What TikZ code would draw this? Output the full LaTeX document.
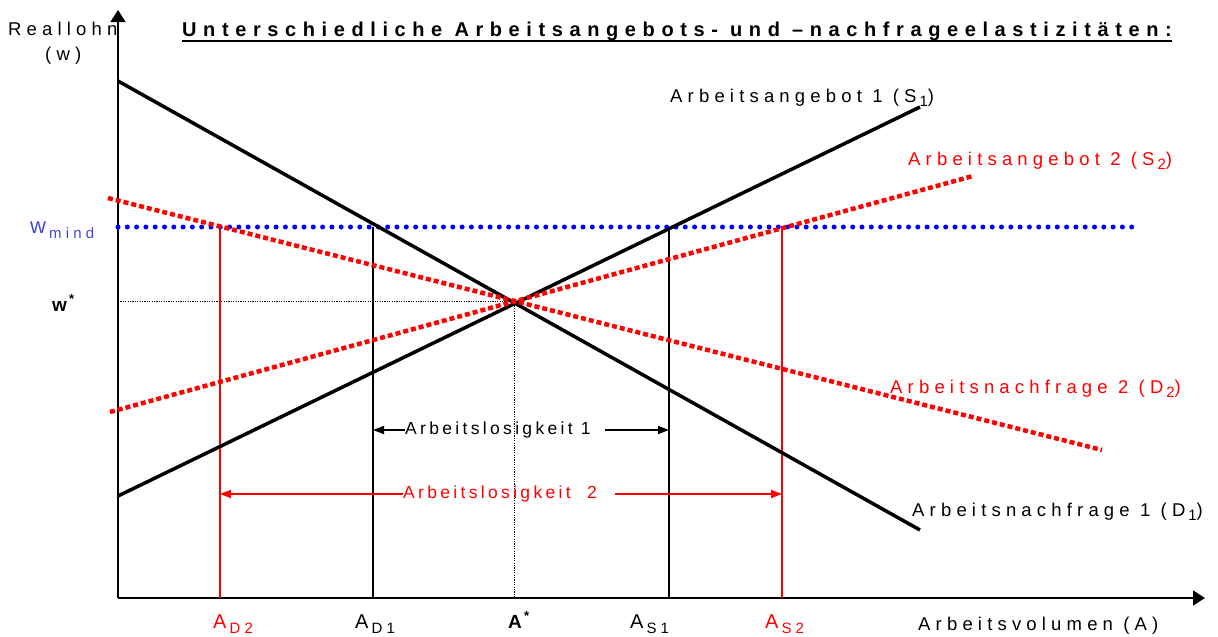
\documentclass[tikz,border=0pt]{standalone}
\usepackage{fontspec}
\setmainfont{Liberation Sans}
\newfontfamily\spaced[LetterSpace=28]{Liberation Sans}
\newfontfamily\spacedhead[LetterSpace=33]{Liberation Sans}
\newfontfamily\spacedgap[LetterSpace=19]{Liberation Sans}
\usetikzlibrary{arrows.meta, calc}

\definecolor{minblue}{RGB}{70,70,215}
\newcommand{\lo}[1]{\hspace{3pt}\raisebox{-0.5ex}{\fontsize{15}{17}\selectfont #1}}
\newcommand{\hi}{\raisebox{0.7ex}{\fontsize{13}{15}\selectfont\,*}}

\begin{document}
\begin{tikzpicture}[x=1pt, y=-1pt, font=\spaced\fontsize{18.5}{22}\selectfont,
    lbl/.style={anchor=base west, inner sep=0pt},
    curve/.style={line width=3.5pt},
    redcurve/.style={red, line width=4.5pt, dash pattern=on 5pt off 3pt},
    minline/.style={blue, line width=5pt, line cap=round, dash pattern=on 0pt off 9.3pt},
    guide/.style={line width=1pt, dash pattern=on 1.2pt off 1.2pt},
    drop/.style={line width=2pt},
    reddrop/.style={red, line width=1.5pt},
    axis/.style={line width=1.5pt, -{Triangle[length=12pt, width=15pt]}},
    gap/.style={line width=1.8pt, -{Triangle[length=11pt, width=8pt]}},
    gaplbl/.style={lbl, anchor=west, font=\spacedgap\fontsize{17.5}{20}\selectfont},
    big/.style={font=\spaced\fontsize{20}{24}\selectfont},
    bigbold/.style={font=\spaced\bfseries\fontsize{19}{23}\selectfont}]
  \useasboundingbox (0,0) rectangle (1218,637);

  % points of the chart
  \coordinate (O) at (118,598);
  \coordinate (ytop) at (118,10);
  \coordinate (xend) at (1205,598);
  \coordinate (eq) at (514,301);
  \coordinate (d1a) at (118,81);   \coordinate (d1b) at (920,530);
  \coordinate (s1a) at (118,496);  \coordinate (s1b) at (920,107);
  \coordinate (d2a) at (108,198);  \coordinate (d2b) at (1102,450);
  \coordinate (s2a) at (110,412);  \coordinate (s2b) at (973,176);
  \coordinate (ma) at (118,227);   \coordinate (mb) at (1140,227);
  \coordinate (wst) at (118,301);
  \coordinate (ad2) at (220,227);  \coordinate (ad1) at (373,227);
  \coordinate (as1) at (669,227);  \coordinate (as2) at (782,227);

  % axes
  \draw[axis] (O) -- (ytop);
  \draw[axis] (O) -- (xend);

  % guides and drop lines
  \draw[guide] (wst) -- (eq);
  \draw[guide] (eq) -- (eq |- O);
  \draw[reddrop] (ad2) -- (ad2 |- O);
  \draw[reddrop] (as2) -- (as2 |- O);
  \draw[drop] (ad1) -- (ad1 |- O);
  \draw[drop] (as1) -- (as1 |- O);

  % minimum wage
  \draw[minline] (ma) -- (mb);

  % curves
  \draw[curve] (d1a) -- (d1b);
  \draw[curve] (s1a) -- (s1b);
  \draw[redcurve] (d2a) -- (d2b);
  \draw[redcurve] (s2a) -- (s2b);

  % unemployment arrows
  \node[gaplbl] (gap1) at (405,430) {Arbeitslosigkeit 1\kern14pt};
  \draw[gap] (gap1.west) -- (gap1.west -| ad1);
  \draw[gap] (gap1.east) -- (gap1.east -| as1);
  \node[gaplbl, red] (gap2) at (403,494) {Arbeitslosigkeit\ \ 2\kern18pt};
  \draw[gap, red] (gap2.west) -- (gap2.west -| ad2);
  \draw[gap, red] (gap2.east) -- (gap2.east -| as2);

  % title
  \node[lbl, font=\spacedhead\bfseries\fontsize{20}{24}\selectfont] (title) at (182,36)
    {Unterschiedliche Arbeitsangebots- und –nachfrageelastizitäten:};
  \draw[line width=2.2pt] ([yshift=-5pt]title.base west) -- ([yshift=-5pt]title.base east);

  % axis labels
  \node[lbl] (ylab) at (8,35) {Reallohn};
  \node[lbl] (yvar) at (45,60) {(w)};
  \node[lbl] (xlab) at (918,630) {Arbeitsvolumen (A)};
  \node[lbl, minblue, font=\spaced\fontsize{22}{26}\selectfont] (wmin) at (30,233) {w\lo{mind}};
  \node[lbl, bigbold] (wstar) at (52,311) {w\hi};

  % curve labels
  \node[lbl] (s1lab) at (670,102) {Arbeitsangebot 1 (S\lo{1})};
  \node[lbl, red] (s2lab) at (908,165) {Arbeitsangebot 2 (S\lo{2})};
  \node[lbl, red] (d2lab) at (890,393) {Arbeitsnachfrage 2 (D\lo{2})};
  \node[lbl] (d1lab) at (912,516) {Arbeitsnachfrage 1 (D\lo{1})};

  % quantities
  \node[lbl, big, red] (qd2) at (213,628) {A\lo{D2}};
  \node[lbl, big] (qd1) at (355,628) {A\lo{D1}};
  \node[lbl, bigbold] (qeq) at (508,628) {A\hi};
  \node[lbl, big] (qs1) at (630,628) {A\lo{S1}};
  \node[lbl, big, red] (qs2) at (765,628) {A\lo{S2}};
\end{tikzpicture}
\end{document}
